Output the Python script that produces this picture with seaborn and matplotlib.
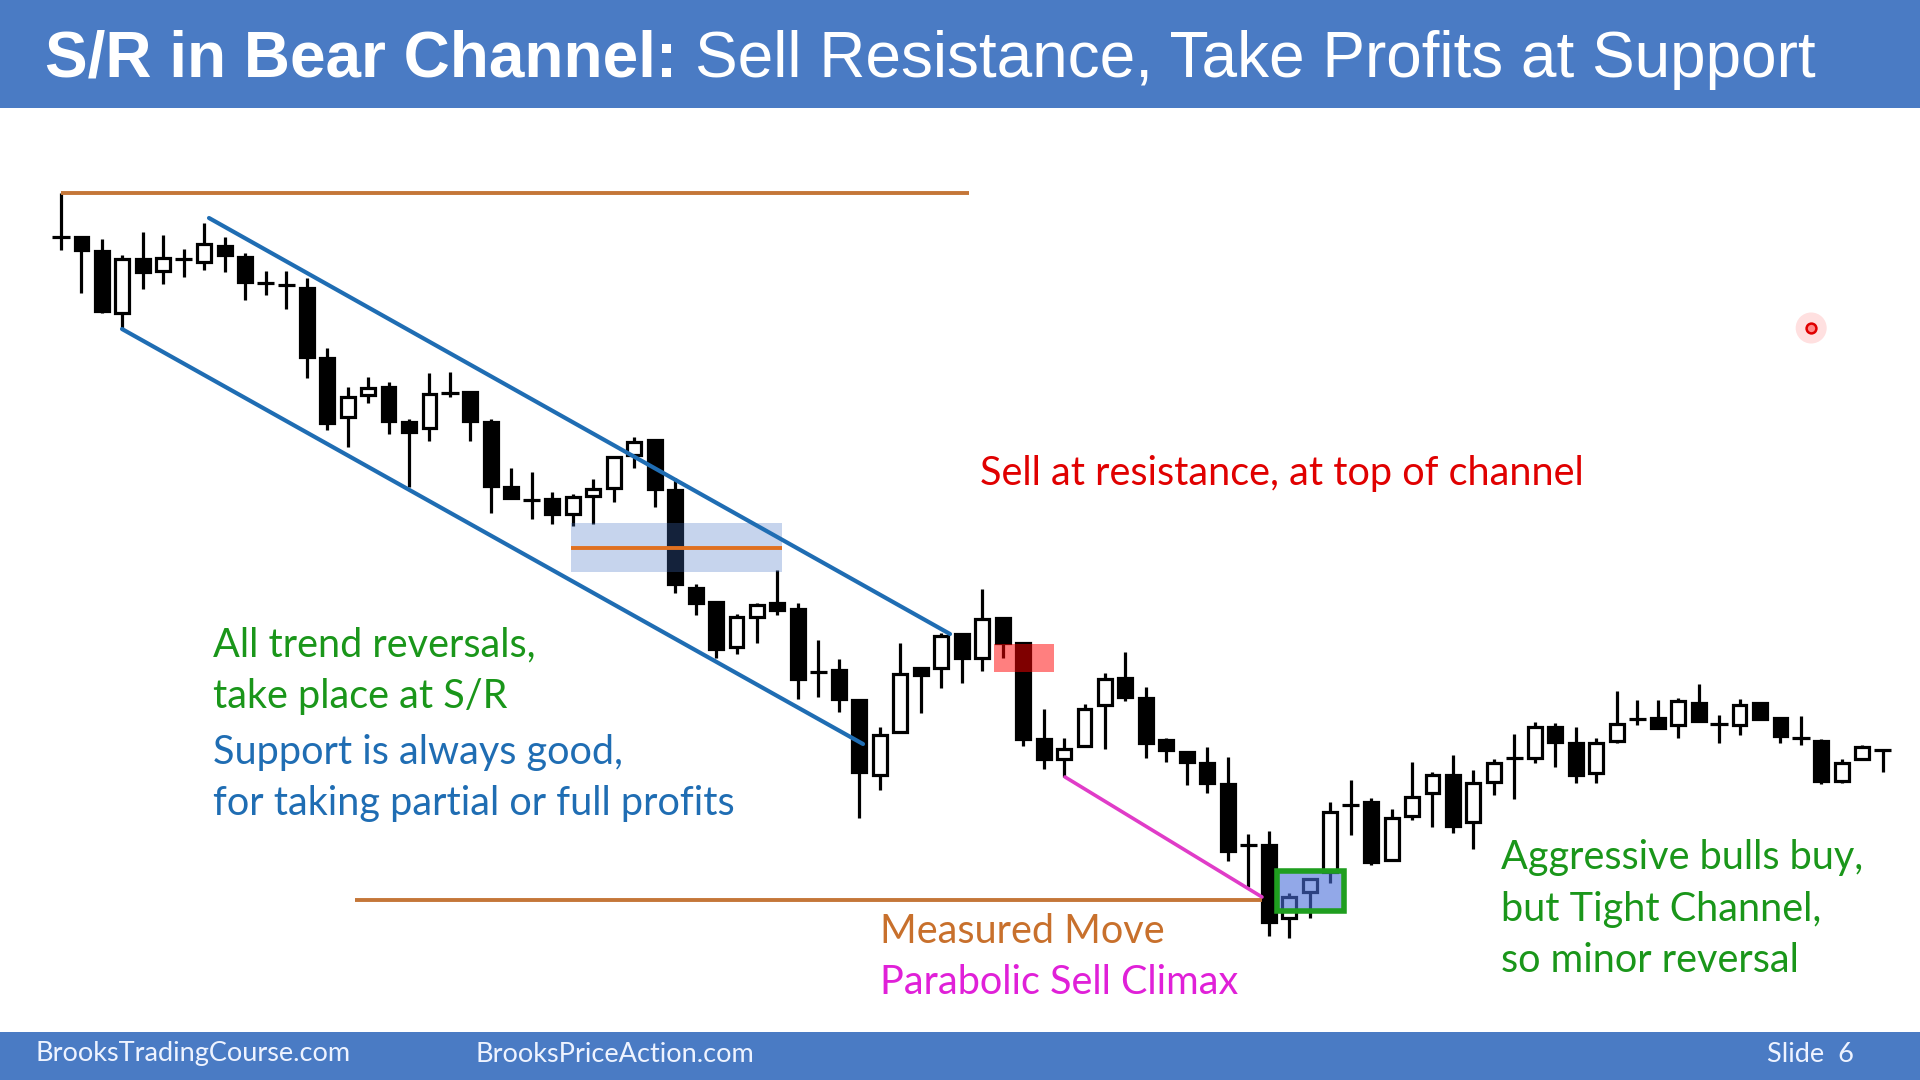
import numpy as np
import matplotlib
matplotlib.use("Agg")
import matplotlib.pyplot as plt
from matplotlib.patches import Rectangle
import seaborn as sns

# ---------------- data (price units) ----------------
opens = [763, 763, 749, 687, 741, 729, 741, 738, 754, 743,
         717, 715, 712, 642, 583, 605, 613, 578, 572, 607,
         608, 578, 513, 500, 501, 486, 504, 512, 545, 560,
         510, 412, 398, 353, 383, 397, 391, 328, 330, 300,
         225, 268, 332, 332, 366, 342, 382, 357, 261, 241,
         254, 295, 322, 302, 260, 248, 237, 216, 155, 155,
         82, 108, 128, 195, 198, 140, 184, 207, 225, 178,
         218, 242, 242, 273, 257, 227, 259, 281, 282, 275,
         297, 276, 275, 297, 282, 262, 259, 219, 241, 250]
closes = [763, 750, 689, 741, 728, 742, 741, 756, 745, 718,
          717, 715, 643, 577, 603, 612, 579, 568, 606, 607,
          579, 514, 502, 500, 486, 503, 511, 543, 558, 511,
          416, 397, 351, 383, 395, 390, 321, 328, 301, 228,
          265, 326, 325, 364, 342, 381, 357, 261, 241, 251,
          291, 321, 303, 257, 250, 238, 217, 149, 155, 78,
          103, 121, 188, 195, 138, 182, 203, 225, 174, 217,
          237, 242, 273, 258, 225, 257, 276, 281, 272, 299,
          279, 276, 295, 281, 264, 262, 219, 237, 253, 250]
highs = [807, 763, 761, 745, 768, 765, 751, 777, 763, 747,
         729, 729, 722, 652, 613, 623, 618, 581, 627, 628,
         608, 581, 532, 528, 508, 506, 521, 543, 563, 560,
         522, 416, 399, 386, 397, 430, 397, 360, 341, 300,
         273, 357, 333, 367, 366, 411, 382, 357, 291, 262,
         296, 327, 348, 313, 262, 248, 253, 243, 166, 169,
         107, 121, 198, 220, 202, 191, 238, 228, 245, 230,
         241, 266, 278, 277, 273, 262, 309, 300, 300, 302,
         316, 285, 301, 297, 282, 284, 261, 241, 255, 250]
lows = [750, 707, 687, 672, 711, 716, 723, 730, 728, 700,
        705, 691, 622, 570, 553, 597, 566, 513, 559, 603,
        559, 487, 502, 481, 476, 474, 476, 498, 532, 493,
        407, 385, 342, 346, 357, 385, 301, 303, 288, 182,
        210, 268, 287, 312, 317, 329, 342, 254, 231, 223,
        254, 251, 299, 242, 238, 215, 207, 139, 113, 64,
        62, 82, 117, 165, 135, 140, 180, 173, 167, 151,
        205, 201, 237, 233, 217, 217, 257, 275, 272, 262,
        278, 257, 265, 281, 257, 255, 216, 217, 241, 228]

# annotation levels / lines (bar index, price)
top_level = 807
top_level_span = [0, 44.36]
support_level = 100
support_span = [14.36, 58.67]
mid_level = 452
mid_zone = [428, 477]
mid_span = [24.9, 35.2]
channel_upper_x = [7.23, 43.43]
channel_upper_y = [782, 366]
channel_lower_x = [2.98, 39.18]
channel_lower_y = [671, 256]
climax_x = [49.05, 58.67]
climax_y = [223, 103]
sell_zone_x = [45.6, 48.5]
sell_zone_y = [328, 356]
bottom_box_x = [59.4, 62.7]
bottom_box_y = [89, 129]
pointer_x = [85.5]
pointer_y = [672]

title_bold = "S/R in Bear Channel:"
title_rest = "Sell Resistance, Take Profits at Support"
footer_left = "BrooksTradingCourse.com"
footer_mid = "BrooksPriceAction.com"
footer_right = "Slide  6"

# ---------------- style ----------------
sns.set_theme(style="white")
plt.rcParams["font.family"] = ["Lato", "DejaVu Sans"]

W, H = 1920, 1080
fig = plt.figure(figsize=(19.2, 10.8), dpi=100)
fig.patch.set_facecolor("white")
ax = fig.add_axes([0, 0, 1, 1])
ax.set_facecolor("white")
X0, DX = 61.0, 20.47
ax.set_xlim(-X0 / DX, (W - X0) / DX)
ax.set_ylim(1000 - H, 1000)
ax.axis("off")

o = np.array(opens, float); c = np.array(closes, float)
h = np.array(highs, float); l = np.array(lows, float)
idx = np.arange(len(o))
bull = c > o
bear = c < o
doji = c == o
LW = 2.3
BW = 0.68

ax.vlines(idx, l, h, color="black", lw=LW, zorder=2)
ax.bar(idx[bear], (o - c)[bear], bottom=c[bear], width=BW, color="black",
       edgecolor="black", lw=LW, zorder=3)
ax.bar(idx[bull], (c - o)[bull], bottom=o[bull], width=BW, color="white",
       edgecolor="black", lw=LW, zorder=3)
ax.hlines(o[doji], idx[doji] - 0.42, idx[doji] + 0.42, color="black", lw=LW, zorder=3)

# levels and channel
orange = "#c47638"
blue_line = "#1f6db3"
ax.plot(top_level_span, [top_level, top_level], color=orange, lw=2.8, zorder=5,
        solid_capstyle="butt")
ax.plot(support_span, [support_level, support_level], color=orange, lw=2.8, zorder=5,
        solid_capstyle="butt")
ax.add_patch(Rectangle((mid_span[0], mid_zone[0]), mid_span[1] - mid_span[0],
                       mid_zone[1] - mid_zone[0], facecolor="#4472c4", alpha=0.3,
                       edgecolor="none", zorder=4))
ax.plot(mid_span, [mid_level, mid_level], color="#e0701f", lw=2.8, zorder=5,
        solid_capstyle="butt")
ax.plot(channel_upper_x, channel_upper_y, color=blue_line, lw=3.0, zorder=6)
ax.plot(channel_lower_x, channel_lower_y, color=blue_line, lw=3.0, zorder=6)
ax.plot(climax_x, climax_y, color="#e03cc8", lw=2.6, zorder=6)
ax.add_patch(Rectangle((sell_zone_x[0], sell_zone_y[0]), sell_zone_x[1] - sell_zone_x[0],
                       sell_zone_y[1] - sell_zone_y[0], facecolor="red", alpha=0.5,
                       edgecolor="none", zorder=4))
ax.add_patch(Rectangle((bottom_box_x[0], bottom_box_y[0]), bottom_box_x[1] - bottom_box_x[0],
                       bottom_box_y[1] - bottom_box_y[0], facecolor=(0.29, 0.43, 0.85, 0.6),
                       edgecolor="#1f9e1f", lw=4, zorder=5))

# pointer dot
sns.scatterplot(x=pointer_x, y=pointer_y, s=500, color="red", alpha=0.12,
                edgecolor="none", ax=ax, zorder=7, legend=False)
sns.scatterplot(x=pointer_x, y=pointer_y, s=50, color="#ff8a8a", edgecolor="#e00000",
                linewidth=1.8, ax=ax, zorder=8, legend=False)

# ---------------- header / footer ----------------
bar_col = "#4a7bc4"
fig.add_artist(Rectangle((0, 1 - 108 / H), 1, 108 / H, transform=fig.transFigure,
                         facecolor=bar_col, edgecolor="none", zorder=10))
fig.add_artist(Rectangle((0, 0), 1, 48 / H, transform=fig.transFigure,
                         facecolor=bar_col, edgecolor="none", zorder=10))

def fx(x):
    return x / W

def fy(y):
    return 1 - y / H

tb = fig.text(fx(45), fy(77), title_bold, color="white", fontsize=46, fontweight="bold",
              family=["Liberation Sans", "DejaVu Sans"], va="baseline", ha="left", zorder=11)
fig.canvas.draw()
bb = tb.get_window_extent(renderer=fig.canvas.get_renderer())
fig.text(fx(bb.x1 + 18), fy(77), title_rest, color="white", fontsize=46,
         family=["Liberation Sans", "DejaVu Sans"], va="baseline", ha="left", zorder=11)

foot_col = "#eef3ff"
fig.text(fx(35), fy(1054), footer_left, color=foot_col, fontsize=19.5, va="center", zorder=11)
fig.text(fx(475), fy(1054), footer_mid, color=foot_col, fontsize=19.5, va="center", zorder=11)
fig.text(fx(1767), fy(1054), footer_right, color=foot_col, fontsize=19.5, va="center", zorder=11)

# ---------------- annotations ----------------
green = "#1a961a"
blue_t = "#1f6db3"
FS = 28.5
def note(x, y, s, col):
    fig.text(fx(x), fy(y), s, color=col, fontsize=FS, va="baseline", ha="left", zorder=12)

note(980, 485, "Sell at resistance, at top of channel", "#e00000")
note(213, 656, "All trend reversals,", green)
note(213, 708, "take place at S/R", green)
note(213, 764, "Support is always good,", blue_t)
note(213, 815, "for taking partial or full profits", blue_t)
note(880, 943, "Measured Move", "#c8702c")
note(880, 994, "Parabolic Sell Climax", "#e020d8")
note(1501, 869, "Aggressive bulls buy,", green)
note(1501, 921, "but Tight Channel,", green)
note(1501, 972, "so minor reversal", green)

fig.savefig("out.png", dpi=100)
